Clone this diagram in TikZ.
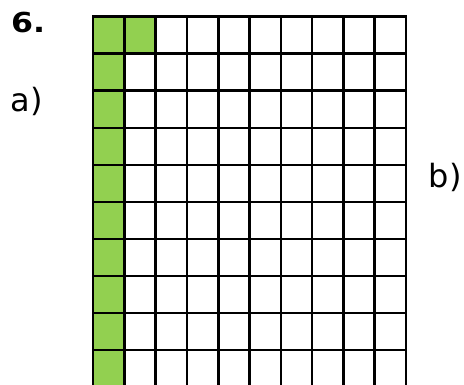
\documentclass[tikz,border=0pt]{standalone}
\usepackage{fontspec}
\setmainfont{DejaVu Sans}
\definecolor{cellgreen}{HTML}{92D050}
\begin{document}
\begin{tikzpicture}[x=1pt,y=1pt,
  gridline/.style={line width=2.6pt,black},
  lbl/.style={anchor=base west,inner sep=0pt,font=\fontsize{32}{36}\selectfont}]
\useasboundingbox (0,0) rectangle (464,385);
% green cells (image y downward: y_tikz = 385 - y_img)
\fill[cellgreen] (93,0) rectangle (124.3,368.3);
\fill[cellgreen] (124.3,331.26) rectangle (155.6,368.3);
% horizontal lines
\foreach \k in {0,...,9}{
  \draw[gridline] (93,{368.3-\k*37.04}) -- (406,{368.3-\k*37.04});
}
% vertical lines
\foreach \i in {0,...,10}{
  \draw[gridline] ({93+\i*31.3},0) -- ({93+\i*31.3},369.6);
}
\node[lbl,font=\fontsize{27.5}{30}\selectfont\bfseries] (six) at (11,352.3) {\scalebox{1.15}[1]{6.}};
\node[lbl] (a) at (10.3,273.3) {a)};
\node[lbl] (b) at (428.7,197.7) {b)};
\end{tikzpicture}
\end{document}
